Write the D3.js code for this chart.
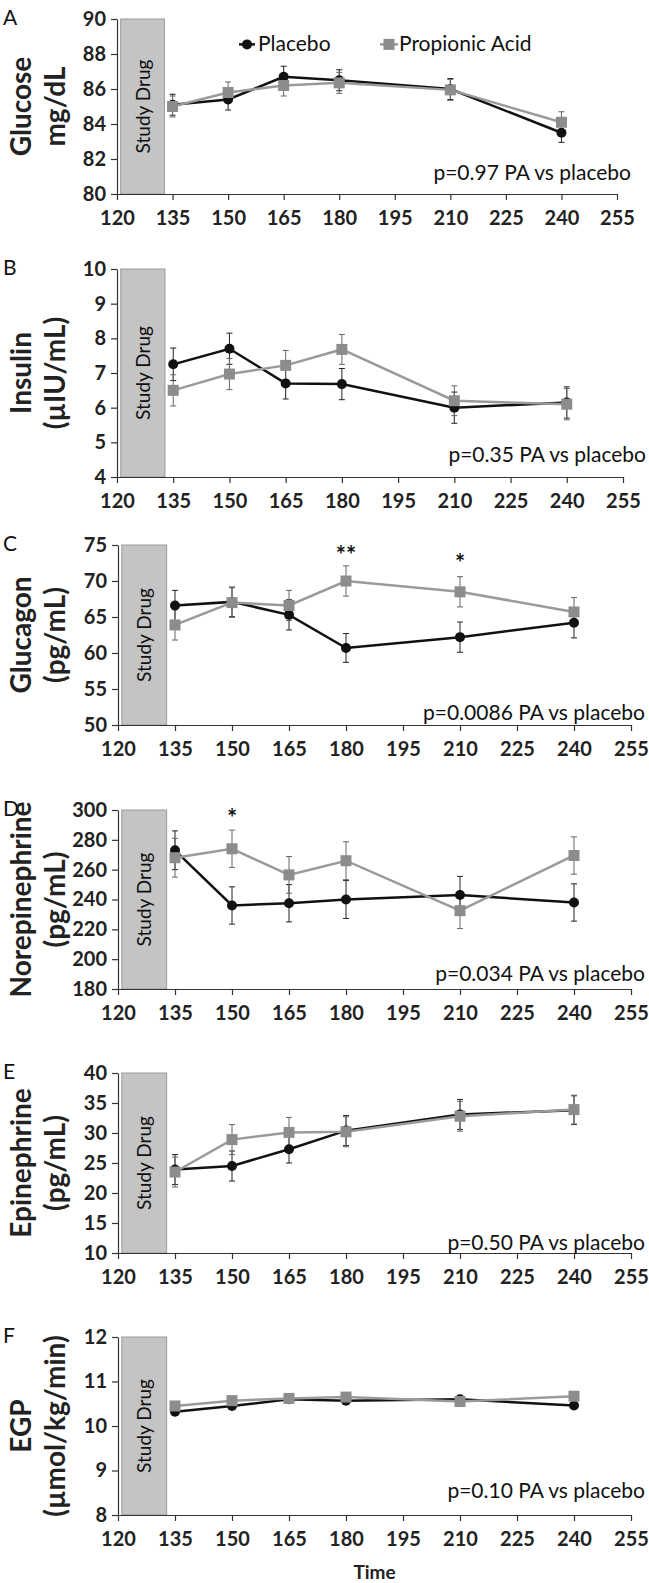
<!DOCTYPE html>
<html><head><meta charset="utf-8">
<script src="https://cdn.jsdelivr.net/npm/d3@7"></script>
<style>body{margin:0;background:#fff} svg{display:block}</style>
</head><body>
<script>
// ---------- data ----------
const times = [135, 150, 165, 180, 210, 240];
const xTicks = [120, 135, 150, 165, 180, 195, 210, 225, 240, 255];
const seriesNames = ["Placebo", "Propionic Acid"];

const glucosePlacebo    = [85.1, 85.4, 86.7, 86.5, 86.0, 83.5];
const glucosePlaceboErr = [0.6, 0.6, 0.6, 0.6, 0.6, 0.55];
const glucosePA         = [85.0, 85.8, 86.2, 86.35, 85.95, 84.1];
const glucosePAErr      = [0.6, 0.6, 0.6, 0.6, 0.6, 0.6];
const glucoseTicks      = [80, 82, 84, 86, 88, 90];

const insulinPlacebo    = [7.25, 7.7, 6.7, 6.68, 6.0, 6.15];
const insulinPlaceboErr = [0.47, 0.45, 0.45, 0.45, 0.45, 0.45];
const insulinPA         = [6.5, 6.97, 7.22, 7.68, 6.2, 6.1];
const insulinPAErr      = [0.45, 0.45, 0.43, 0.43, 0.43, 0.45];
const insulinTicks      = [4, 5, 6, 7, 8, 9, 10];

const glucagonPlacebo    = [66.6, 67.1, 65.3, 60.7, 62.2, 64.2];
const glucagonPlaceboErr = [2.1, 2.05, 2.1, 2.0, 2.1, 2.1];
const glucagonPA         = [63.9, 67.0, 66.6, 70.0, 68.5, 65.7];
const glucagonPAErr      = [2.1, 2.05, 2.1, 2.1, 2.1, 2.0];
const glucagonTicks      = [50, 55, 60, 65, 70, 75];

const norepiPlacebo    = [273, 236, 237.5, 240, 243, 238];
const norepiPlaceboErr = [13, 12.5, 12.5, 12.7, 12.5, 12.5];
const norepiPA         = [268, 274, 256.5, 266, 232.5, 269.5];
const norepiPAErr      = [13, 12.5, 12.3, 12.7, 12, 12.5];
const norepiTicks      = [180, 200, 220, 240, 260, 280, 300];

const epiPlacebo    = [23.9, 24.5, 27.3, 30.4, 33.1, 33.8];
const epiPlaceboErr = [2.5, 2.5, 2.3, 2.5, 2.5, 2.4];
const epiPA         = [23.5, 28.9, 30.1, 30.2, 32.8, 33.9];
const epiPAErr      = [2.5, 2.5, 2.5, 2.5, 2.5, 2.4];
const epiTicks      = [10, 15, 20, 25, 30, 35, 40];

const egpPlacebo    = [10.32, 10.45, 10.6, 10.57, 10.6, 10.46];
const egpPlaceboErr = [0.05, 0.05, 0.05, 0.05, 0.05, 0.05];
const egpPA         = [10.45, 10.57, 10.62, 10.65, 10.55, 10.67];
const egpPAErr      = [0.05, 0.05, 0.05, 0.05, 0.05, 0.05];
const egpTicks      = [8, 9, 10, 11, 12];

const panelLetters = ["A", "B", "C", "D", "E", "F"];
const titleLine1 = ["Glucose", "Insulin", "Glucagon", "Norepinephrine", "Epinephrine", "EGP"];
const titleLine2 = ["mg/dL", "(\u00b5IU/mL)", "(pg/mL)", "(pg/mL)", "(pg/mL)", "(\u00b5mol/kg/min)"];
const pTexts = ["p=0.97 PA vs placebo", "p=0.35 PA vs placebo", "p=0.0086 PA vs placebo",
                "p=0.034 PA vs placebo", "p=0.50 PA vs placebo", "p=0.10 PA vs placebo"];
const studyDrugStart = 121, studyDrugEnd = 132.8;
// significance marks: [panel index, time, label, y value]
const starMarks = [[2, 180, "**", 74.1], [2, 210, "*", 73.0], [3, 150, "*", 297]];

const panels = [
  {pl: glucosePlacebo, plE: glucosePlaceboErr, pa: glucosePA, paE: glucosePAErr, ticks: glucoseTicks, pY: 81.2},
  {pl: insulinPlacebo, plE: insulinPlaceboErr, pa: insulinPA, paE: insulinPAErr, ticks: insulinTicks, pY: 4.63},
  {pl: glucagonPlacebo, plE: glucagonPlaceboErr, pa: glucagonPA, paE: glucagonPAErr, ticks: glucagonTicks, pY: 51.6},
  {pl: norepiPlacebo, plE: norepiPlaceboErr, pa: norepiPA, paE: norepiPAErr, ticks: norepiTicks, pY: 190},
  {pl: epiPlacebo, plE: epiPlaceboErr, pa: epiPA, paE: epiPAErr, ticks: epiTicks, pY: 11.7},
  {pl: egpPlacebo, plE: egpPlaceboErr, pa: egpPA, paE: egpPAErr, ticks: egpTicks, pY: 8.55}
];

// ---------- layout ----------
const W = 649, H = 1583;
const plotTop    = [19, 269, 545, 810, 1073, 1337];
const plotBottom = [194, 477, 725, 989, 1253, 1515];
const plotLeft   = [117, 117, 118, 118, 118, 118];
const plotRight  = [617, 623, 631, 631, 631, 631];
const pRight     = [631, 646, 645, 645, 645, 645];

const FONT = "Lato, 'Open Sans', sans-serif";
const BLACK = "#111", GREY = "#8c8c8c", GREYLINE = "#9a9a9a";

const svg = d3.select("body").append("svg").attr("width", W).attr("height", H)
  .style("font-family", FONT);

panels.forEach((p, i) => {
  const x = d3.scaleLinear().domain([120, 255]).range([plotLeft[i], plotRight[i]]);
  const y = d3.scaleLinear().domain(d3.extent(p.ticks)).range([plotBottom[i], plotTop[i]]);
  const g = svg.append("g");

  // study drug box
  g.append("rect")
    .attr("x", x(studyDrugStart)).attr("y", y(p.ticks[p.ticks.length - 1]))
    .attr("width", x(studyDrugEnd) - x(studyDrugStart))
    .attr("height", y(p.ticks[0]) - y(p.ticks[p.ticks.length - 1]))
    .attr("fill", "#c4c4c4").attr("stroke", "#999").attr("stroke-width", 1);
  const cx = (x(studyDrugStart) + x(studyDrugEnd)) / 2;
  const cy = (plotTop[i] + plotBottom[i]) / 2;
  g.append("text").attr("transform", `translate(${cx + 7},${cy}) rotate(-90)`)
    .attr("text-anchor", "middle").attr("font-size", 19).attr("fill", "#111")
    .text("Study Drug");

  // axes
  const ya = g.append("g").attr("transform", `translate(${plotLeft[i]},0)`)
    .call(d3.axisLeft(y).tickValues(p.ticks).tickFormat(d3.format("d"))
      .tickSize(6).tickSizeOuter(0).tickPadding(5));
  const xa = g.append("g").attr("transform", `translate(0,${plotBottom[i]})`)
    .call(d3.axisBottom(x).tickValues(xTicks).tickFormat(d3.format("d"))
      .tickSize(6).tickSizeOuter(0).tickPadding(11));
  [ya, xa].forEach(a => {
    a.select(".domain").attr("stroke", "#333").attr("stroke-width", 1.2);
    a.selectAll(".tick line").attr("stroke", "#333").attr("stroke-width", 1.2);
    a.selectAll(".tick text").attr("font-family", FONT).attr("font-size", 20)
      .attr("font-weight", "bold").attr("fill", "#222");
  });

  // y title
  g.append("text").attr("transform", `translate(31,${cy}) rotate(-90)`)
    .attr("text-anchor", "middle").attr("font-size", 28).attr("font-weight", "bold")
    .attr("fill", "#222").text(titleLine1[i]);
  g.append("text").attr("transform", `translate(65,${cy}) rotate(-90)`)
    .attr("text-anchor", "middle").attr("font-size", 28).attr("font-weight", "bold")
    .attr("fill", "#222").text(titleLine2[i]);

  // panel letter
  g.append("text").attr("x", 3).attr("y", plotTop[i] + 6)
    .attr("font-size", 21).attr("fill", "#111").text(panelLetters[i]);

  // p value
  g.append("text").attr("x", pRight[i]).attr("y", y(p.pY) + 7)
    .attr("text-anchor", "end").attr("font-size", 21).attr("fill", "#111").text(pTexts[i]);

  const line = d3.line().x((d, k) => x(times[k])).y(d => y(d));

  // error bars
  function errBars(vals, errs, color) {
    const eg = g.append("g").attr("stroke", color).attr("stroke-width", 1);
    vals.forEach((v, k) => {
      const xx = x(times[k]);
      eg.append("line").attr("x1", xx).attr("x2", xx).attr("y1", y(v - errs[k])).attr("y2", y(v + errs[k]));
      eg.append("line").attr("x1", xx - 3).attr("x2", xx + 3).attr("y1", y(v - errs[k])).attr("y2", y(v - errs[k]));
      eg.append("line").attr("x1", xx - 3).attr("x2", xx + 3).attr("y1", y(v + errs[k])).attr("y2", y(v + errs[k]));
    });
  }
  errBars(p.pl, p.plE, "#222");
  errBars(p.pa, p.paE, "#666");

  // placebo
  g.append("path").datum(p.pl).attr("d", line).attr("fill", "none")
    .attr("stroke", BLACK).attr("stroke-width", 2.5);
  g.selectAll(null).data(p.pl).enter().append("circle")
    .attr("cx", (d, k) => x(times[k])).attr("cy", d => y(d)).attr("r", 5).attr("fill", BLACK);

  // propionic acid
  g.append("path").datum(p.pa).attr("d", line).attr("fill", "none")
    .attr("stroke", GREYLINE).attr("stroke-width", 2.5);
  g.selectAll(null).data(p.pa).enter().append("rect")
    .attr("x", (d, k) => x(times[k]) - 5.5).attr("y", d => y(d) - 5.5)
    .attr("width", 11).attr("height", 11).attr("fill", GREY);

  // significance
  starMarks.filter(s => s[0] === i).forEach(s => {
    g.append("text").attr("x", x(s[1])).attr("y", y(s[3]) + 13)
      .attr("text-anchor", "middle").attr("font-size", 24).attr("font-weight", "bold")
      .attr("fill", "#111").text(s[2]);
  });

  // legend (panel A only)
  if (i === 0) {
    const ly = y(88.55);
    const lg = g.append("g");
    lg.append("line").attr("x1", 239).attr("x2", 255).attr("y1", ly).attr("y2", ly)
      .attr("stroke", BLACK).attr("stroke-width", 2.5);
    lg.append("circle").attr("cx", 247).attr("cy", ly).attr("r", 5).attr("fill", BLACK);
    lg.append("text").attr("x", 258).attr("y", ly + 7).attr("font-size", 21)
      .attr("fill", "#111").text(seriesNames[0]);
    lg.append("line").attr("x1", 380).attr("x2", 398).attr("y1", ly).attr("y2", ly)
      .attr("stroke", GREYLINE).attr("stroke-width", 2.5);
    lg.append("rect").attr("x", 383.5).attr("y", ly - 5.5).attr("width", 11).attr("height", 11)
      .attr("fill", GREY);
    lg.append("text").attr("x", 399).attr("y", ly + 7).attr("font-size", 21)
      .attr("fill", "#111").text(seriesNames[1]);
  }

  if (i === panels.length - 1) {
    g.append("text").attr("x", (plotLeft[i] + plotRight[i]) / 2).attr("y", 1579)
      .attr("text-anchor", "middle").attr("font-size", 19).attr("font-weight", "bold")
      .attr("fill", "#222").text("Time");
  }
});
</script>
</body></html>
